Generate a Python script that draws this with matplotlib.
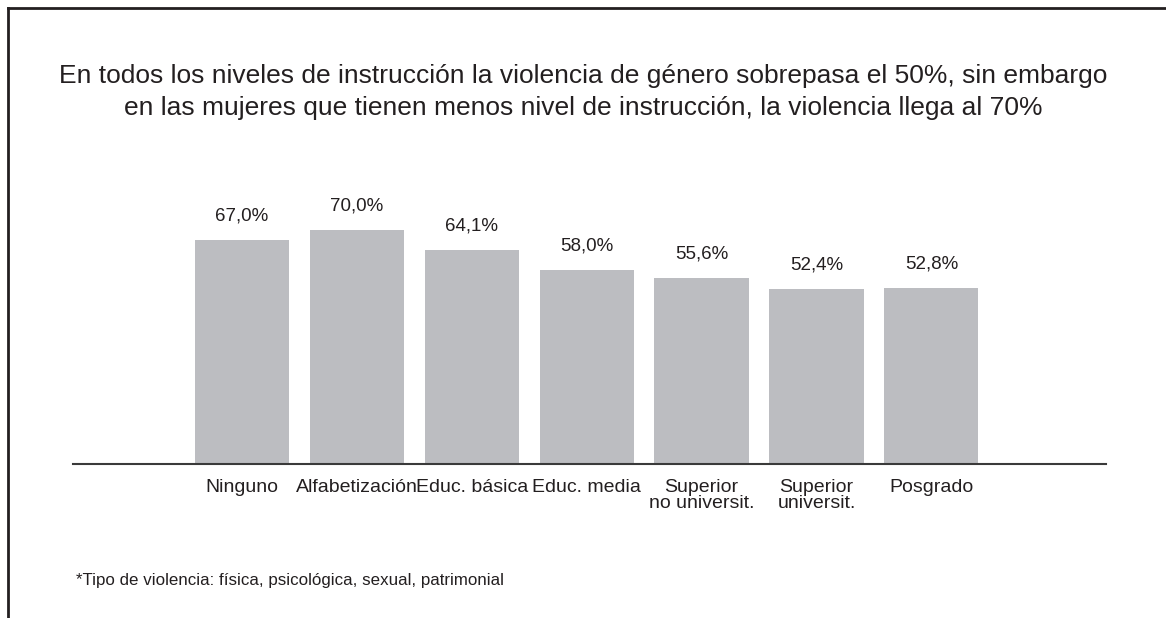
import matplotlib
matplotlib.use('Agg')
import matplotlib.pyplot as plt
from matplotlib.lines import Line2D

plt.rcParams['font.family'] = ['Liberation Sans', 'DejaVu Sans']

categorias = ['Ninguno', 'Alfabetización', 'Educ. básica', 'Educ. media',
              'Superior\nno universit.', 'Superior\nuniversit.', 'Posgrado']
valores = [67.0, 70.0, 64.1, 58.0, 55.6, 52.4, 52.8]
etiquetas = ['67,0%', '70,0%', '64,1%', '58,0%', '55,6%', '52,4%', '52,8%']

titulo = ('En todos los niveles de instrucción la violencia de género sobrepasa el 50%, sin embargo\n'
          'en las mujeres que tienen menos nivel de instrucción, la violencia llega al 70%')
nota = '*Tipo de violencia: física, psicológica, sexual, patrimonial'

fig = plt.figure(figsize=(11.66, 6.18), dpi=100)
ax = fig.add_axes([73/1166, 1 - 464/618, (1106 - 73)/1166, 334/618])

x = range(len(categorias))
ax.bar(x, valores, width=0.82, color='#bcbdc1')
for xi, v, t in zip(x, valores, etiquetas):
    ax.text(xi, v + 4.6, t, ha='center', va='bottom', fontsize=13.5, color='#231f20')

ax.set_xlim(-1.47, 7.52)
ax.set_ylim(0, 100)
ax.set_xticks(list(x))
ax.set_xticklabels(categorias, fontsize=14, color='#231f20', linespacing=0.88)
ax.tick_params(axis='x', length=0, pad=11)
ax.set_yticks([])
for s in ['top', 'right', 'left']:
    ax.spines[s].set_visible(False)
ax.spines['bottom'].set_color('#3a3a3a')
ax.spines['bottom'].set_linewidth(1.5)

fig.text(583/1166, 1 - 92/618, titulo, ha='center', va='center', fontsize=19,
         color='#231f20', linespacing=1.42)
fig.text(76/1166, 1 - 580/618, nota, ha='left', va='center', fontsize=12.2, color='#231f20')

# marco superior e izquierdo
fig.add_artist(Line2D([8/1166, 1], [1 - 8/618, 1 - 8/618], transform=fig.transFigure,
                      color='#231f20', lw=2))
fig.add_artist(Line2D([8/1166, 8/1166], [0, 1 - 8/618], transform=fig.transFigure,
                      color='#231f20', lw=2))

fig.savefig('out.png', dpi=100)
